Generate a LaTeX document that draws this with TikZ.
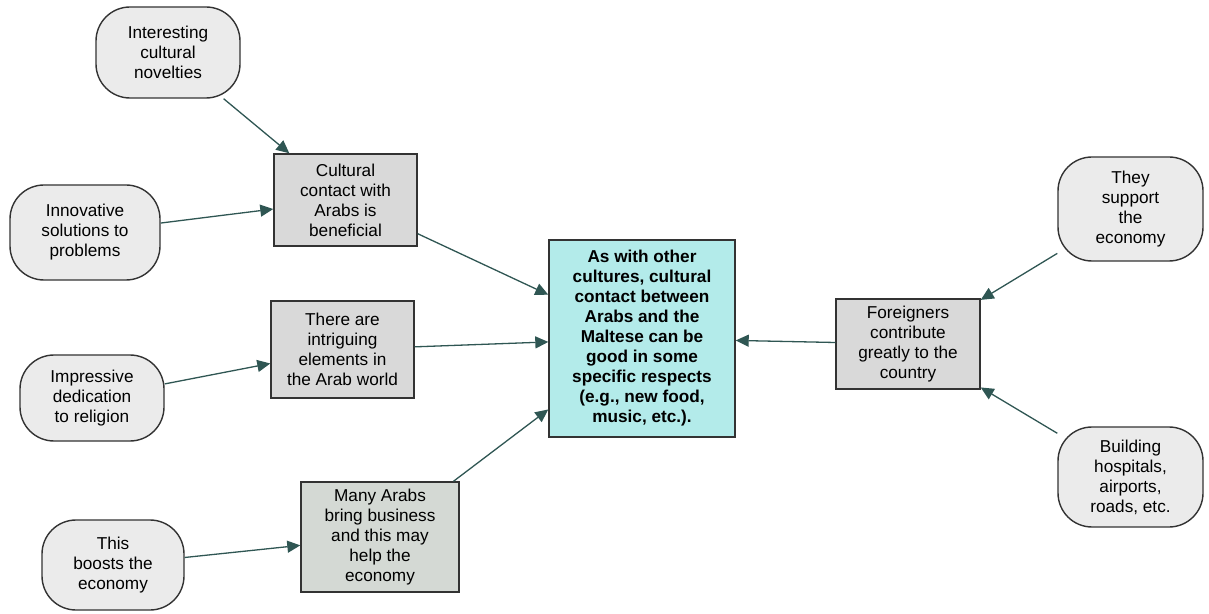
\documentclass[tikz,border=0pt]{standalone}
\usepackage{fontspec}
\setsansfont{Liberation Sans}
\tikzset{every picture/.style={/utils/exec={\sffamily}}}
\usetikzlibrary{arrows.meta}

\definecolor{linkteal}{HTML}{2F5653}
\definecolor{boxgrey}{HTML}{D9D9D9}
\definecolor{roundgrey}{HTML}{EBEBEB}
\definecolor{sagegrey}{HTML}{D4D9D4}
\definecolor{claimcyan}{HTML}{B3EBEA}

\tikzset{
  claim/.style={draw=black!80, line width=0.7pt, fill=boxgrey, align=center, inner sep=0pt},
  reason/.style={claim, fill=roundgrey, rounded corners=17pt},
  link/.style={draw=linkteal, line width=0.65pt, -{Triangle[length=6.5pt,width=6pt]}}
}

\begin{document}
\begin{tikzpicture}[x=0.5pt, y=-0.5pt, font=\fontsize{8.6}{10}\selectfont]
  \useasboundingbox (0,0) rectangle (1209,614);

  % main claim
  \node [claim, fill=claimcyan, font=\fontsize{8.6}{10}\selectfont\bfseries,
         minimum width=93pt, minimum height=98.5pt] at (642,338.5) (main)
    {As with other\\cultures, cultural\\contact between\\Arabs and the\\Maltese can be\\good in some\\specific respects\\(e.g., new food,\\music, etc.).};

  % left side
  \node [claim, minimum width=71.5pt, minimum height=46pt] at (345.5,200) (contact)
    {Cultural\\contact with\\Arabs is\\beneficial};
  \node [claim, minimum width=71.5pt, minimum height=48.5pt] at (342.5,349.5) (intrigue)
    {There are\\intriguing\\elements in\\the Arab world};
  \node [claim, fill=sagegrey, minimum width=79pt, minimum height=55pt] at (380,537) (business)
    {Many Arabs\\bring business\\and this may\\help the\\economy};

  \node [reason, minimum width=72pt, minimum height=45.5pt] at (168,52.5) (novelty)
    {Interesting\\cultural\\novelties};
  \node [reason, minimum width=75pt, minimum height=47.5pt] at (85,232.5) (solution)
    {Innovative\\solutions to\\problems};
  \node [reason, minimum width=72pt, minimum height=43pt] at (92,398) (religion)
    {Impressive\\dedication\\to religion};
  \node [reason, minimum width=71pt, minimum height=45pt] at (113,565) (boost)
    {This\\boosts the\\economy};

  % right side
  \node [claim, minimum width=72pt, minimum height=45pt] at (908,344) (foreign)
    {Foreigners\\contribute\\greatly to the\\country};
  \node [reason, minimum width=72.5pt, minimum height=52pt] at (1130.5,209) (support)
    {They\\support\\the\\economy};
  \node [reason, minimum width=72.5pt, minimum height=50pt] at (1130.5,477) (build)
    {Building\\hospitals,\\airports,\\roads, etc.};

  \draw [link] (novelty) -- (contact);
  \draw [link] (solution) -- (contact);
  \draw [link] (religion) -- (intrigue);
  \draw [link] (boost) -- (business);
  \draw [link] (contact) -- (main);
  \draw [link] (intrigue) -- (main);
  \draw [link] (business) -- (main);
  \draw [link] (foreign) -- (main);
  \draw [link] (support) -- (foreign);
  \draw [link] (build) -- (foreign);

\end{tikzpicture}
\end{document}
